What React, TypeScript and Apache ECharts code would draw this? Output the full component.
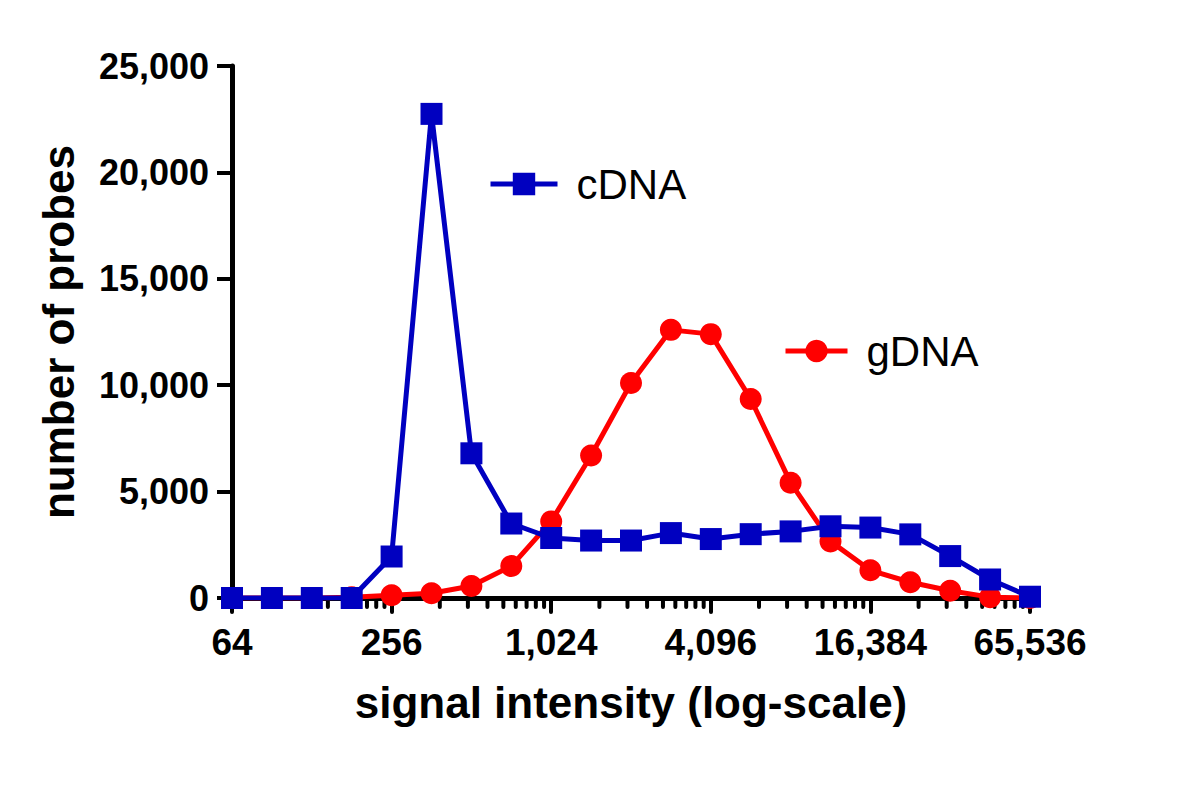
import React, { useEffect, useRef } from "react";
import * as echarts from "echarts";

// signal intensity bins (log2 half-steps from 64 to 65,536)
const INTENSITY = [
  64, 90.51, 128, 181.02, 256, 362.04, 512, 724.08, 1024, 1448.15, 2048,
  2896.31, 4096, 5792.62, 8192, 11585.24, 16384, 23170.48, 32768, 46340.95,
  65536,
];
const CDNA = [
  0, 0, 0, 0, 1950, 22750, 6800, 3500, 2820, 2700, 2700, 3050, 2770, 3000,
  3130, 3370, 3310, 2990, 1970, 870, 60,
];
const GDNA = [
  0, 0, 0, 30, 130, 220, 560, 1500, 3600, 6700, 10100, 12600, 12400, 9350,
  5420, 2660, 1300, 740, 340, 40, 0,
];
const X_MAJOR = [64, 256, 1024, 4096, 16384, 65536];
const X_MINOR_FACTORS = [1.52, 1.94, 2.3, 2.64, 2.94, 3.23, 3.5, 3.76];
const Y_TICKS = [0, 5000, 10000, 15000, 20000, 25000];

const BLUE = "#0000C0";
const RED = "#FF0000";
const FONT = "'Liberation Sans', Arial, Helvetica, sans-serif";

export default function App() {
  const ref = useRef<HTMLDivElement>(null);
  useEffect(() => {
    document.body.style.margin = "0";
    const chart = echarts.init(ref.current!, null, { renderer: "svg" });
    const minorTicks: number[][] = [];
    X_MAJOR.slice(0, -1).forEach((m) =>
      X_MINOR_FACTORS.forEach((f) => minorTicks.push([m * f, 0]))
    );
    const fmt = (v: number) => Math.round(v).toLocaleString("en-US");
    const legendBase = {
      itemHeight: 28,
      itemGap: 0,
      padding: 0,
      lineStyle: { width: 5 },
      textStyle: { fontSize: 42, color: "#000", fontFamily: FONT, padding: [0, 0, 0, 14] },
    };
    chart.setOption({
      animation: false,
      backgroundColor: "#ffffff",
      grid: { left: 232, right: 170, top: 66, bottom: 202, containLabel: false },
      legend: [
        { ...legendBase, data: ["cDNA"], left: 488, top: 163, itemWidth: 67 },
        { ...legendBase, data: ["gDNA"], left: 783, top: 330, itemWidth: 62 },
      ],
      xAxis: {
        type: "log",
        logBase: 2,
        min: X_MAJOR[0],
        max: X_MAJOR[X_MAJOR.length - 1],
        interval: 2,
        splitNumber: 5,
        name: "signal intensity (log-scale)",
        nameLocation: "middle",
        nameGap: 82,
        nameTextStyle: { fontSize: 44, fontWeight: "bold", color: "#000", fontFamily: FONT },
        axisLine: { lineStyle: { color: "#000", width: 5 } },
        axisTick: { length: 14, lineStyle: { color: "#000", width: 4, cap: "round" } },
        axisLabel: {
          margin: 26,
          fontSize: 37,
          fontWeight: "bold",
          color: "#000",
          fontFamily: FONT,
          formatter: fmt,
        },
        splitLine: { show: false },
        minorTick: { show: false },
      },
      yAxis: {
        type: "value",
        min: Y_TICKS[0],
        max: Y_TICKS[Y_TICKS.length - 1],
        interval: 5000,
        name: "number of probes",
        nameLocation: "middle",
        nameGap: 152,
        nameTextStyle: { fontSize: 44, fontWeight: "bold", color: "#000", fontFamily: FONT },
        axisLine: { show: true, lineStyle: { color: "#000", width: 5 } },
        axisTick: { show: true, length: 15, lineStyle: { color: "#000", width: 4 } },
        axisLabel: {
          margin: 23,
          fontSize: 36,
          fontWeight: "bold",
          color: "#000",
          fontFamily: FONT,
          formatter: fmt,
        },
        splitLine: { show: false },
      },
      series: [
        {
          type: "custom",
          name: "minorTicks",
          silent: true,
          clip: false,
          z: 1,
          data: minorTicks,
          renderItem: (_p: any, api: any) => {
            const pt = api.coord([api.value(0), 0]);
            return {
              type: "line",
              shape: { x1: pt[0], y1: pt[1], x2: pt[0], y2: pt[1] + 9 },
              style: { stroke: "#000", lineWidth: 4, lineCap: "round" },
            };
          },
        },
        {
          name: "gDNA",
          type: "line",
          data: INTENSITY.map((x, i) => [x, GDNA[i]]),
          symbol: "circle",
          symbolSize: 22,
          lineStyle: { color: RED, width: 5 },
          itemStyle: { color: RED },
          z: 3,
        },
        {
          name: "cDNA",
          type: "line",
          data: INTENSITY.map((x, i) => [x, CDNA[i]]),
          symbol: "rect",
          symbolSize: 22,
          lineStyle: { color: BLUE, width: 5 },
          itemStyle: { color: BLUE },
          z: 4,
        },
      ],
    });
    return () => chart.dispose();
  }, []);
  return <div ref={ref} style={{ width: 1200, height: 800 }} />;
}
